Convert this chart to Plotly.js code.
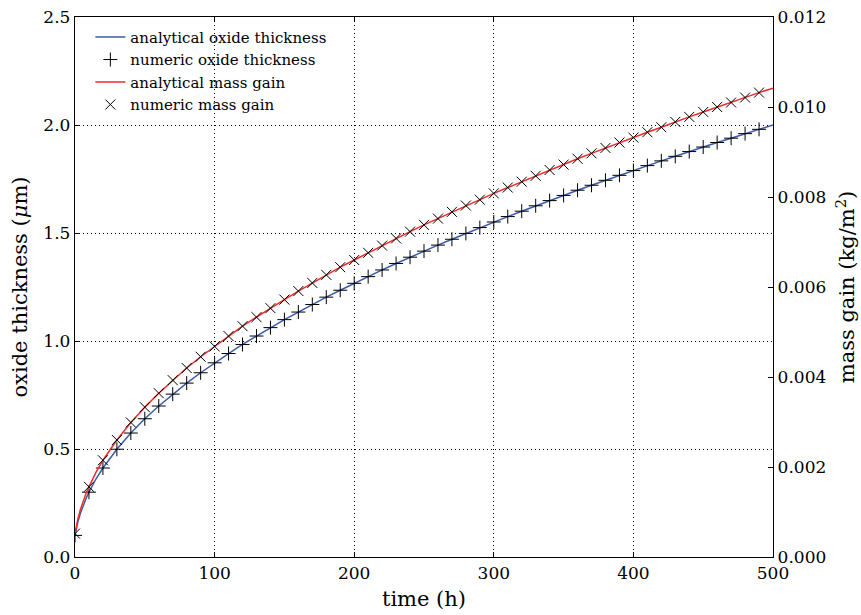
<!DOCTYPE html>
<html>
<head>
<meta charset="utf-8">
<script src="https://cdn.plot.ly/plotly-3.0.1.min.js"></script>
<style>html,body{margin:0;padding:0;background:#fff;}#chart{width:861px;height:615px;}</style>
</head>
<body>
<div id="chart"></div>
<script>
// numeric samples every 10 h
var timeNumeric = [0,10,20,30,40,50,60,70,80,90,100,110,120,130,140,150,160,170,180,190,200,210,220,230,240,250,260,270,280,290,300,310,320,330,340,350,360,370,380,390,400,410,420,430,440,450,460,470,480,490];
var thicknessNumeric = [0.100,0.300,0.412,0.499,0.574,0.640,0.699,0.754,0.805,0.853,0.899,0.942,0.984,1.023,1.062,1.099,1.134,1.169,1.203,1.235,1.267,1.298,1.329,1.359,1.388,1.416,1.444,1.471,1.498,1.525,1.551,1.576,1.601,1.626,1.650,1.674,1.698,1.721,1.744,1.767,1.789,1.812,1.834,1.855,1.877,1.898,1.919,1.939,1.960,1.980];
var massNumeric = [0.00052,0.00156,0.00215,0.00260,0.00299,0.00333,0.00364,0.00393,0.00420,0.00445,0.00468,0.00491,0.00513,0.00533,0.00553,0.00572,0.00591,0.00609,0.00627,0.00644,0.00660,0.00676,0.00692,0.00708,0.00723,0.00738,0.00752,0.00767,0.00781,0.00794,0.00808,0.00821,0.00834,0.00847,0.00860,0.00872,0.00885,0.00897,0.00909,0.00921,0.00932,0.00944,0.00955,0.00967,0.00978,0.00989,0.01000,0.01010,0.01021,0.01032];

// analytical curves
var timeAnalytic = [0,1,2,4,6,8,10,15,20,30,40,50,60,70,80,90,100,110,120,130,140,150,160,170,180,190,200,210,220,230,240,250,260,270,280,290,300,310,320,330,340,350,360,370,380,390,400,410,420,430,440,450,460,470,480,490,500];
var thicknessAnalytic = [0.100,0.134,0.161,0.205,0.241,0.272,0.300,0.361,0.412,0.499,0.574,0.640,0.699,0.754,0.805,0.853,0.899,0.942,0.984,1.023,1.062,1.099,1.134,1.169,1.203,1.235,1.267,1.298,1.329,1.359,1.388,1.416,1.444,1.471,1.498,1.525,1.551,1.576,1.601,1.626,1.650,1.674,1.698,1.721,1.744,1.767,1.789,1.812,1.834,1.855,1.877,1.898,1.919,1.939,1.960,1.980,2.000];
var massAnalytic = [0.00052,0.00070,0.00084,0.00107,0.00126,0.00142,0.00156,0.00188,0.00215,0.00260,0.00299,0.00333,0.00364,0.00393,0.00420,0.00445,0.00468,0.00491,0.00513,0.00533,0.00553,0.00572,0.00591,0.00609,0.00627,0.00644,0.00660,0.00676,0.00692,0.00708,0.00723,0.00738,0.00752,0.00767,0.00781,0.00794,0.00808,0.00821,0.00834,0.00847,0.00860,0.00872,0.00885,0.00897,0.00909,0.00921,0.00932,0.00944,0.00955,0.00967,0.00978,0.00989,0.01000,0.01010,0.01021,0.01032,0.01042];

var xTicks = [0,100,200,300,400,500];
var yTicks = [0.0,0.5,1.0,1.5,2.0,2.5];
var y2Ticks = [0.000,0.002,0.004,0.006,0.008,0.010,0.012];

var serif = 'DejaVu Serif, serif';
var blue = '#3a5ba9', red = '#ee2b2b';

var traces = [
  {x: timeAnalytic, y: thicknessAnalytic, mode: 'lines', name: 'analytical oxide thickness',
   line: {color: blue, width: 1.5}, yaxis: 'y'},
  {x: timeNumeric, y: thicknessNumeric, mode: 'markers', name: 'numeric oxide thickness',
   marker: {symbol: 'cross-thin', size: 10, line: {color: '#000', width: 1}, color: '#000'}, yaxis: 'y'},
  {x: timeAnalytic, y: massAnalytic, mode: 'lines', name: 'analytical mass gain',
   line: {color: red, width: 1.5}, yaxis: 'y2'},
  {x: timeNumeric, y: massNumeric, mode: 'markers', name: 'numeric mass gain',
   marker: {symbol: 'x-thin', size: 10, line: {color: '#000', width: 1}, color: '#000'}, yaxis: 'y2'}
];

var layout = {
  width: 861, height: 615,
  margin: {l: 75, r: 88, t: 17, b: 58},
  paper_bgcolor: '#fff', plot_bgcolor: '#fff',
  font: {family: serif, color: '#000', size: 17},
  showlegend: true,
  legend: {x: 0.022, y: 0.993, xanchor: 'left', yanchor: 'top', bgcolor: 'rgba(0,0,0,0)',
           font: {family: serif, size: 15, color: '#000'}, tracegroupgap: 0, itemwidth: 30},
  xaxis: {range: [0, 500], tickvals: xTicks, ticktext: xTicks.map(String),
          ticks: 'inside', ticklen: 5, tickcolor: '#000', mirror: 'ticks',
          showline: true, linecolor: '#000', linewidth: 1.2,
          showgrid: true, gridcolor: '#000', griddash: '1px,3px', gridwidth: 1,
          zeroline: false, tickfont: {family: serif, size: 17},
          title: {text: 'time (h)', font: {family: serif, size: 21}, standoff: 9}},
  yaxis: {range: [0, 2.5], tickvals: yTicks, ticktext: yTicks.map(function(v){return v.toFixed(1);}),
          ticks: 'inside', ticklen: 5, tickcolor: '#000', mirror: true,
          showline: true, linecolor: '#000', linewidth: 1.2,
          showgrid: true, gridcolor: '#000', griddash: '1px,3px', gridwidth: 1,
          zeroline: false, tickfont: {family: serif, size: 17},
          title: {text: 'oxide thickness (<i>μ</i>m)', font: {family: serif, size: 21}, standoff: 10}},
  yaxis2: {range: [0, 0.012], tickvals: y2Ticks, ticktext: y2Ticks.map(function(v){return v.toFixed(3);}),
           overlaying: 'y', side: 'right', anchor: 'x',
           ticks: 'inside', ticklen: 5, tickcolor: '#000',
           showline: true, linecolor: '#000', linewidth: 1.2,
           showgrid: false, zeroline: false, tickfont: {family: serif, size: 17},
           title: {text: 'mass gain (kg/m<sup>2</sup>)', font: {family: serif, size: 21}, standoff: 14}}
};

Plotly.newPlot('chart', traces, layout, {displayModeBar: false, staticPlot: true});
</script>
</body>
</html>
